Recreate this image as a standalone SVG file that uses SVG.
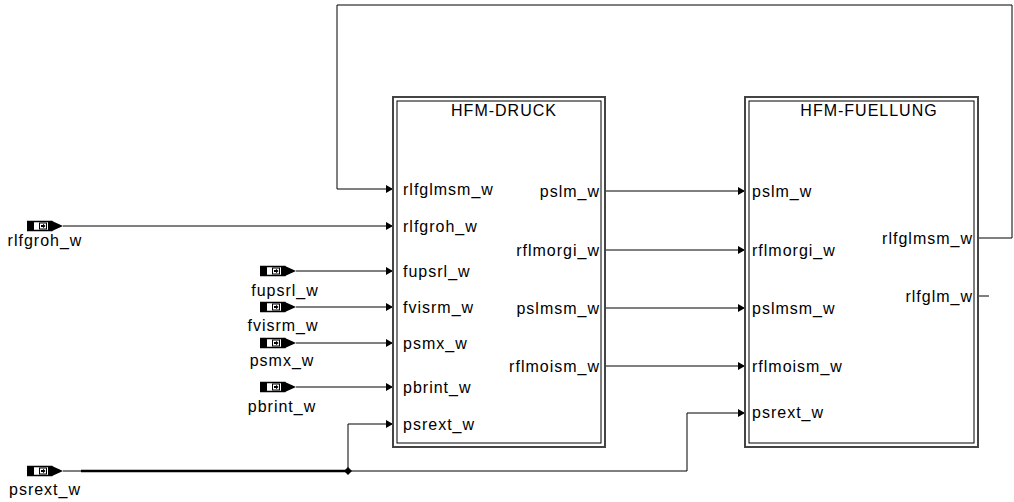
<svg xmlns="http://www.w3.org/2000/svg" width="1014" height="502" viewBox="0 0 1014 502">
<style>
text{font-family:"Liberation Sans",Arial,sans-serif;font-size:16px;fill:#000;letter-spacing:1px}
.r{text-anchor:end}
.m{text-anchor:middle}
.ln{fill:none;stroke:#000;stroke-width:1}
.thick{fill:none;stroke:#000;stroke-width:2.5}
.bo{fill:#fff;stroke:#444;stroke-width:2}
.bi{fill:none;stroke:#000;stroke-width:1}
</style>
<defs>
<marker id="a" markerWidth="7" markerHeight="8" refX="7" refY="4" orient="auto" markerUnits="userSpaceOnUse">
<path d="M0,0 L7,4 L0,8 Z" fill="#000"/>
</marker>
<g id="inport">
<rect x="0.75" y="-4.5" width="24" height="9" fill="#fff" stroke="#000" stroke-width="1.5"/>
<rect x="0" y="-5" width="7" height="10" fill="#000"/>
<rect x="21" y="-5" width="4" height="10" fill="#000"/>
<rect x="12.5" y="-3" width="7" height="6" fill="#fff" stroke="#000" stroke-width="1"/>
<path d="M14,-1 H16 V-2.3 L18.6,0 L16,2.3 V1 H14 Z" fill="#000"/>
<path d="M25,-5 L36,0 L25,5 Z" fill="#000"/>
</g>
</defs>
<rect width="1014" height="502" fill="#fff"/>

<g id="connectors">
<path class="ln" d="M978,238 H1012 V5 H337 V189 H393" marker-end="url(#a)"/>
<path class="ln" d="M978,296 H989"/>
<path class="ln" d="M63,226 H393" marker-end="url(#a)"/>
<path class="ln" d="M296,271 H393" marker-end="url(#a)"/>
<path class="ln" d="M296,307 H393" marker-end="url(#a)"/>
<path class="ln" d="M296,343 H393" marker-end="url(#a)"/>
<path class="ln" d="M296,387 H393" marker-end="url(#a)"/>
<path class="ln" d="M605,191 H745" marker-end="url(#a)"/>
<path class="ln" d="M605,250 H745" marker-end="url(#a)"/>
<path class="ln" d="M605,308 H745" marker-end="url(#a)"/>
<path class="ln" d="M605,366 H745" marker-end="url(#a)"/>
<path class="ln" d="M63,471 H81" stroke="#777"/>
<path class="thick" d="M81,471 H348"/>
<path class="ln" d="M348,471 V424 H393" marker-end="url(#a)"/>
<path class="ln" d="M348,471 H687 V413 H745" marker-end="url(#a)"/>
<path d="M348,467 L352,471 L348,475 L344,471 Z" fill="#000"/>
</g>

<g id="in_rlfgroh">
<use href="#inport" x="27" y="226"/>
<text class="m" x="45" y="246">rlfgroh_w</text>
</g>
<g id="in_fupsrl">
<use href="#inport" x="260" y="271"/>
<text class="m" x="285" y="296">fupsrl_w</text>
</g>
<g id="in_fvisrm">
<use href="#inport" x="260" y="307"/>
<text class="m" x="283" y="331">fvisrm_w</text>
</g>
<g id="in_psmx">
<use href="#inport" x="260" y="343"/>
<text class="m" x="282" y="366">psmx_w</text>
</g>
<g id="in_pbrint">
<use href="#inport" x="260" y="387"/>
<text class="m" x="282" y="412">pbrint_w</text>
</g>
<g id="in_psrext">
<use href="#inport" x="27" y="471"/>
<text class="m" x="45" y="495">psrext_w</text>
</g>

<g id="hfm_druck">
<rect class="bo" x="393" y="97" width="212" height="350"/>
<rect class="bi" x="397" y="101" width="204" height="342"/>
<text class="m" x="504" y="116">HFM-DRUCK</text>
<text x="403" y="195">rlfglmsm_w</text>
<text x="403" y="232">rlfgroh_w</text>
<text x="403" y="277">fupsrl_w</text>
<text x="403" y="313">fvisrm_w</text>
<text x="403" y="349">psmx_w</text>
<text x="403" y="393">pbrint_w</text>
<text x="403" y="430">psrext_w</text>
<text class="r" x="600" y="197">pslm_w</text>
<text class="r" x="600" y="256">rflmorgi_w</text>
<text class="r" x="600" y="314">pslmsm_w</text>
<text class="r" x="600" y="372">rflmoism_w</text>
</g>

<g id="hfm_fuellung">
<rect class="bo" x="745" y="97" width="233" height="350"/>
<rect class="bi" x="749" y="101" width="225" height="342"/>
<text class="m" x="869" y="116">HFM-FUELLUNG</text>
<text x="752" y="197">pslm_w</text>
<text x="752" y="256">rflmorgi_w</text>
<text x="752" y="314">pslmsm_w</text>
<text x="752" y="372">rflmoism_w</text>
<text x="752" y="418">psrext_w</text>
<text class="r" x="973" y="244">rlfglmsm_w</text>
<text class="r" x="973" y="302">rlfglm_w</text>
</g>
</svg>
